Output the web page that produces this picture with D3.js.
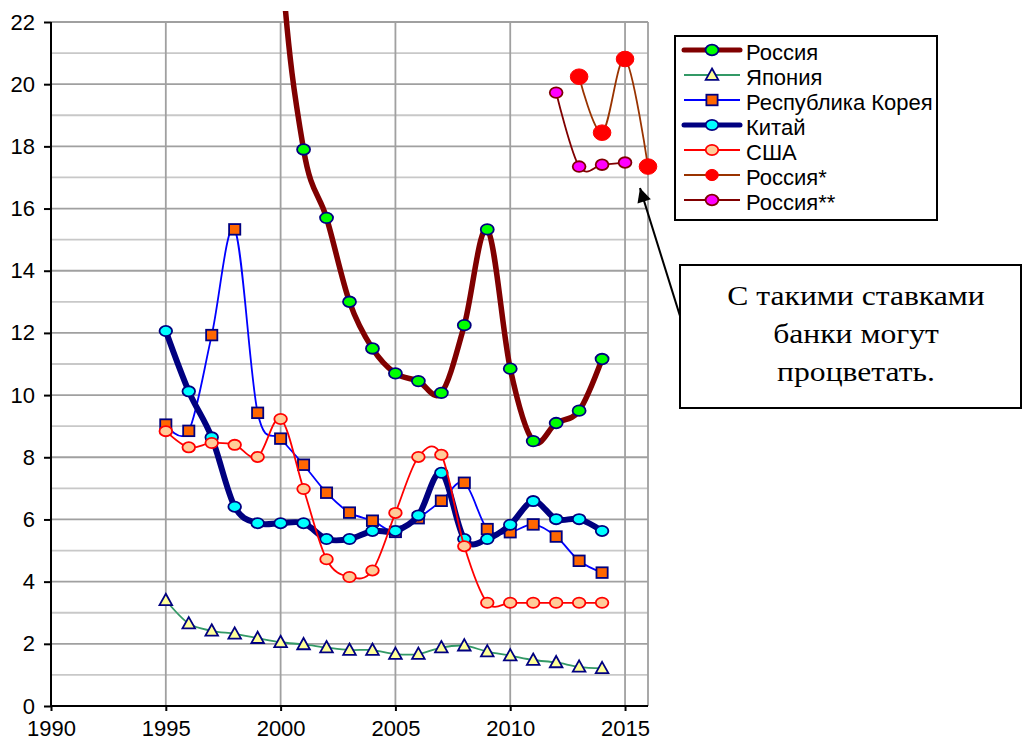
<!DOCTYPE html>
<html>
<head>
<meta charset="utf-8">
<script src="https://cdn.jsdelivr.net/npm/d3@7"></script>
<style>
  html, body { margin: 0; padding: 0; background: #fff; }
  svg { display: block; }
  text { font-family: "Liberation Sans", Arial, sans-serif; }
</style>
</head>
<body>
<svg id="chart" width="1023" height="740"></svg>
<script>
// Lending rates, % per year
const years = [1995, 1996, 1997, 1998, 1999, 2000, 2001, 2002, 2003, 2004,
               2005, 2006, 2007, 2008, 2009, 2010, 2011, 2012, 2013, 2014];
const russiaYears = [1999, 2000, 2001, 2002, 2003, 2004, 2005, 2006, 2007,
                     2008, 2009, 2010, 2011, 2012, 2013, 2014];
const russia = [39.7, 24.4, 17.9, 15.7, 13.0, 11.5, 10.7, 10.45, 10.07,
                12.25, 15.33, 10.85, 8.52, 9.1, 9.5, 11.16];
const japan = [3.4, 2.65, 2.42, 2.32, 2.18, 2.05, 1.98, 1.88, 1.80, 1.80,
               1.67, 1.67, 1.88, 1.94, 1.75, 1.62, 1.48, 1.40, 1.26, 1.21];
const korea = [9.05, 8.85, 11.93, 15.33, 9.43, 8.6, 7.76, 6.86, 6.22, 5.96,
               5.6, 6.04, 6.6, 7.18, 5.69, 5.59, 5.84, 5.45, 4.67, 4.29];
const china = [12.06, 10.12, 8.64, 6.41, 5.88, 5.88, 5.88, 5.37, 5.37, 5.63,
               5.63, 6.13, 7.5, 5.37, 5.37, 5.83, 6.59, 6.01, 6.01, 5.63];
const usa = [8.84, 8.32, 8.46, 8.4, 8.01, 9.23, 6.98, 4.72, 4.15, 4.36,
             6.21, 8.01, 8.08, 5.14, 3.32, 3.32, 3.32, 3.32, 3.32, 3.32];
const russiaStarYears = [2013, 2014, 2015, 2016];
const russiaStar = [20.24, 18.44, 20.81, 17.35];
const russiaStar2Years = [2012, 2013, 2014, 2015];
const russiaStar2 = [19.73, 17.35, 17.41, 17.48];

const xTicks = [1990, 1995, 2000, 2005, 2010, 2015];
const yTicks = [0, 2, 4, 6, 8, 10, 12, 14, 16, 18, 20, 22];
const calloutLines = ["С такими ставками", "банки могут", "процветать."];

const svg = d3.select("#chart");
const plotLeft = 51, plotRight = 648, plotTop = 22, plotBottom = 706;

const x = d3.scaleLinear().domain([1990, 2016]).range([plotLeft, plotRight]);
const y = d3.scaleLinear().domain([0, 22]).range([plotBottom, plotTop]);

// grid
const grid = svg.append("g");
d3.range(1, 23).forEach(v => {
  grid.append("line")
    .attr("x1", plotLeft).attr("x2", plotRight)
    .attr("y1", y(v)).attr("y2", y(v))
    .attr("stroke", v % 2 === 0 ? "#a0a0a0" : "#c8c8c8")
    .attr("stroke-width", 1.8);
});
[1995, 2000, 2005, 2010, 2015, 2016].forEach(v => {
  grid.append("line")
    .attr("x1", x(v)).attr("x2", x(v))
    .attr("y1", plotTop).attr("y2", plotBottom)
    .attr("stroke", "#a0a0a0")
    .attr("stroke-width", 1.8);
});

// axes
const yAxis = svg.append("g")
  .attr("transform", `translate(${plotLeft},0)`)
  .call(d3.axisLeft(y).tickValues(yTicks).tickSize(7).tickPadding(9).tickFormat(d3.format("d")));
const xAxis = svg.append("g")
  .attr("transform", `translate(0,${plotBottom})`)
  .call(d3.axisBottom(x).tickValues(xTicks).tickSize(5).tickPadding(9).tickFormat(d3.format("d")));
[yAxis, xAxis].forEach(a => {
  a.select(".domain").attr("stroke", "#000").attr("stroke-width", 2);
  a.selectAll(".tick line").attr("stroke", "#000").attr("stroke-width", 2);
  a.selectAll(".tick text").attr("fill", "#000")
    .style("font-family", '"Liberation Sans", Arial, sans-serif')
    .style("font-size", "22px");
});
xAxis.select(".domain").attr("d", `M${plotLeft},0H${plotRight}`);
yAxis.select(".domain").attr("d", `M0,${plotBottom}V${plotTop}`);

// series
svg.append("clipPath").attr("id", "plotClip")
  .append("rect").attr("x", plotLeft - 12).attr("y", 11)
  .attr("width", plotRight - plotLeft + 24).attr("height", plotBottom - 11 + 12);

const plot = svg.append("g").attr("clip-path", "url(#plotClip)");
const curve = d3.curveCardinal.tension(0);

function drawMarker(g, shape, cx, cy, s) {
  if (shape === "circle") {
    g.append("ellipse").attr("cx", cx).attr("cy", cy)
      .attr("rx", s.rx).attr("ry", s.ry)
      .attr("fill", s.fill).attr("stroke", s.stroke).attr("stroke-width", s.sw);
  } else if (shape === "square") {
    g.append("rect").attr("x", cx - 5.6).attr("y", cy - 5.3)
      .attr("width", 11.2).attr("height", 10.6)
      .attr("fill", s.fill).attr("stroke", s.stroke).attr("stroke-width", s.sw);
  } else if (shape === "triangle") {
    g.append("path")
      .attr("d", `M${cx},${cy - 6.5}L${cx + 6.3},${cy + 4.8}L${cx - 6.3},${cy + 4.8}Z`)
      .attr("fill", s.fill).attr("stroke", s.stroke).attr("stroke-width", s.sw)
      .attr("stroke-linejoin", "miter");
  }
}

const series = [
  { name: "Россия", xs: russiaYears, ys: russia, line: "#800000", lw: 5.5,
    shape: "circle", fill: "#00ff00", stroke: "#000080", sw: 1.8, rx: 6.5, ry: 5.3 },
  { name: "Япония", xs: years, ys: japan, line: "#339966", lw: 1.8,
    shape: "triangle", fill: "#ffff99", stroke: "#000080", sw: 1.8 },
  { name: "Республика Корея", xs: years, ys: korea, line: "#0000ff", lw: 1.8,
    shape: "square", fill: "#ff6600", stroke: "#000080", sw: 1.8 },
  { name: "Китай", xs: years, ys: china, line: "#000080", lw: 6,
    shape: "circle", fill: "#00ffff", stroke: "#000080", sw: 1.8, rx: 6.3, ry: 5.1 },
  { name: "США", xs: years, ys: usa, line: "#ff0000", lw: 1.8,
    shape: "circle", fill: "#ffcc99", stroke: "#ff0000", sw: 1.8, rx: 6.3, ry: 5.1 },
  { name: "Россия*", xs: russiaStarYears, ys: russiaStar, line: "#993300", lw: 1.8,
    shape: "circle", fill: "#ff0000", stroke: "#ff0000", sw: 1, rx: 8.8, ry: 7.8,
    legendRx: 6.3, legendRy: 5.6 },
  { name: "Россия**", xs: russiaStar2Years, ys: russiaStar2, line: "#800000", lw: 1.8,
    shape: "circle", fill: "#ff00ff", stroke: "#800000", sw: 1.8, rx: 6.4, ry: 5.3 }
];

const lineGen = d3.line().x(d => x(d[0])).y(d => y(d[1])).curve(curve);

series.forEach(s => {
  const pts = s.xs.map((v, i) => [v, s.ys[i]]);
  const g = plot.append("g");
  g.append("path").datum(pts)
    .attr("d", lineGen)
    .attr("fill", "none")
    .attr("stroke", s.line)
    .attr("stroke-width", s.lw)
    .attr("stroke-linejoin", "round")
    .attr("stroke-linecap", "round");
  pts.forEach(p => drawMarker(g, s.shape, x(p[0]), y(p[1]), s));
});

// legend
const legend = svg.append("g");
legend.append("rect")
  .attr("x", 675).attr("y", 36).attr("width", 262).attr("height", 184)
  .attr("fill", "#fff").attr("stroke", "#000").attr("stroke-width", 2);
series.forEach((s, i) => {
  const ry = 50 + i * 25;
  legend.append("line")
    .attr("x1", 684).attr("x2", 740).attr("y1", ry).attr("y2", ry)
    .attr("stroke", s.line).attr("stroke-width", Math.min(s.lw, 5))
    .attr("stroke-linecap", s.lw > 3 ? "round" : "butt");
  const ms = Object.assign({}, s, {
    rx: s.legendRx || s.rx, ry: s.legendRy || s.ry
  });
  drawMarker(legend, s.shape, 712, ry, ms);
  legend.append("text")
    .attr("x", 746).attr("y", ry + 9.5)
    .attr("fill", "#000")
    .style("font-size", "22px")
    .text(s.name);
});

// callout with arrow
const defs = svg.append("defs");
defs.append("marker")
  .attr("id", "arrowHead")
  .attr("viewBox", "0 0 10 10")
  .attr("refX", 10).attr("refY", 5)
  .attr("markerWidth", 16).attr("markerHeight", 14)
  .attr("markerUnits", "userSpaceOnUse")
  .attr("orient", "auto")
  .append("path").attr("d", "M0,0L10,5L0,10Z").attr("fill", "#000");

svg.append("line")
  .attr("x1", 680).attr("y1", 316)
  .attr("x2", 640).attr("y2", 188)
  .attr("stroke", "#000").attr("stroke-width", 2)
  .attr("marker-end", "url(#arrowHead)");

svg.append("rect")
  .attr("x", 680).attr("y", 265).attr("width", 341).attr("height", 143)
  .attr("fill", "#fff").attr("stroke", "#000").attr("stroke-width", 2);

calloutLines.forEach((t, i) => {
  svg.append("text")
    .attr("transform", `translate(856,${305 + i * 38}) scale(1.13,1)`)
    .attr("text-anchor", "middle")
    .attr("fill", "#000")
    .style("font-family", '"Liberation Serif", "Times New Roman", serif')
    .style("font-size", "28px")
    .text(t);
});
</script>
</body>
</html>
